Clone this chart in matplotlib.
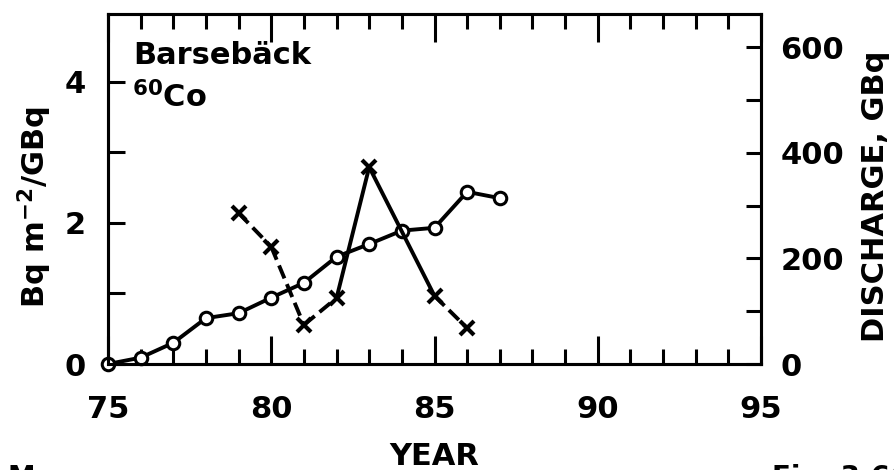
import matplotlib

matplotlib.use("Agg")
import matplotlib.pyplot as plt
from matplotlib.ticker import MultipleLocator

plt.rcParams["font.family"] = ["DejaVu Sans"]
plt.rcParams["font.weight"] = "bold"
plt.rcParams["axes.labelweight"] = "bold"
plt.rcParams["mathtext.default"] = "regular"

# deposition per discharge (left axis), open symbols
ratio_years = [75, 76, 77, 78, 79, 80, 81, 82, 83, 84, 85, 86, 87]
ratio_vals = [0.0, 0.09, 0.30, 0.65, 0.72, 0.94, 1.15, 1.52, 1.70, 1.89, 1.93, 2.44, 2.35]

# discharge in GBq (right axis), crosses
discharge_years = [79, 80, 81, 82, 83, 85, 86]
discharge_vals = [286, 222, 74, 125, 373, 129, 68]
# line style of each segment between consecutive crosses
discharge_dashed = [True, True, True, False, False, True]

W, H = 894, 470
fig = plt.figure(figsize=(W / 100, H / 100), dpi=100)
fig.patch.set_facecolor("white")

# axes box in pixels: left 108, right 761, top 14, bottom 364
ax = fig.add_axes([108 / W, (H - 364) / H, (761 - 108) / W, (364 - 14) / H])
ax2 = ax.twinx()

ax.set_xlim(75, 95)
ax.set_ylim(0, 4.96)
ax2.set_ylim(0, 663)

for a in (ax, ax2):
    for sp in a.spines.values():
        sp.set_linewidth(2.2)

ax.plot(ratio_years, ratio_vals, color="black", lw=2.8, marker="o", ms=9,
        mfc="white", mec="black", mew=2.2, clip_on=False, zorder=3)

for i, dashed in enumerate(discharge_dashed):
    xs = discharge_years[i:i + 2]
    ys = discharge_vals[i:i + 2]
    if dashed:
        ax2.plot(xs, ys, color="black", lw=2.8, dashes=(3.6, 1.6))
    else:
        ax2.plot(xs, ys, color="black", lw=2.8)
ax2.plot(discharge_years, discharge_vals, ls="none", marker="x", ms=10,
         mec="black", mew=3)

# ticks
ax.xaxis.set_major_locator(MultipleLocator(5))
ax.xaxis.set_minor_locator(MultipleLocator(1))
ax.yaxis.set_major_locator(MultipleLocator(2))
ax.yaxis.set_minor_locator(MultipleLocator(1))
ax2.yaxis.set_major_locator(MultipleLocator(200))
ax2.yaxis.set_minor_locator(MultipleLocator(100))

ax.tick_params(axis="x", which="both", direction="in", top=True, width=2.2,
               labelsize=22, pad=22)
ax.tick_params(axis="x", which="major", length=20)
ax.tick_params(axis="x", which="minor", length=11)
ax.tick_params(axis="y", which="both", direction="in", right=False, width=2.2,
               length=12, labelsize=22, pad=16)
ax2.tick_params(axis="y", which="both", direction="in", width=2.2, length=11,
                labelsize=22, pad=14)

ax.set_xlabel("YEAR", fontsize=22, va="center")
ax.xaxis.set_label_coords(0.50, -0.265)
ax.set_ylabel("Bq m$^{-2}$/GBq", fontsize=22, va="center")
ax.yaxis.set_label_coords(-0.112, 0.45)
ax2.set_ylabel("DISCHARGE, GBq", fontsize=22, va="center", rotation=90)
ax2.yaxis.set_label_coords(1.175, 0.48)

ax.text(0.038, (364 - 56) / 350, "Barsebäck", fontsize=22, ha="left",
        va="center", transform=ax.transAxes)
ax.text(0.036, (364 - 97) / 350, "$^{60}$Co", fontsize=22, ha="left",
        va="center", transform=ax.transAxes)

# caption lines cropped by the bottom edge, as in the source scan
fig.text(8 / W, 6 / H, "M", fontsize=20, va="top", ha="left")
fig.text(772 / W, 6 / H, "Fig. 3.6(", fontsize=20, va="top", ha="left")

fig.savefig("out.png", dpi=100, facecolor="white")
